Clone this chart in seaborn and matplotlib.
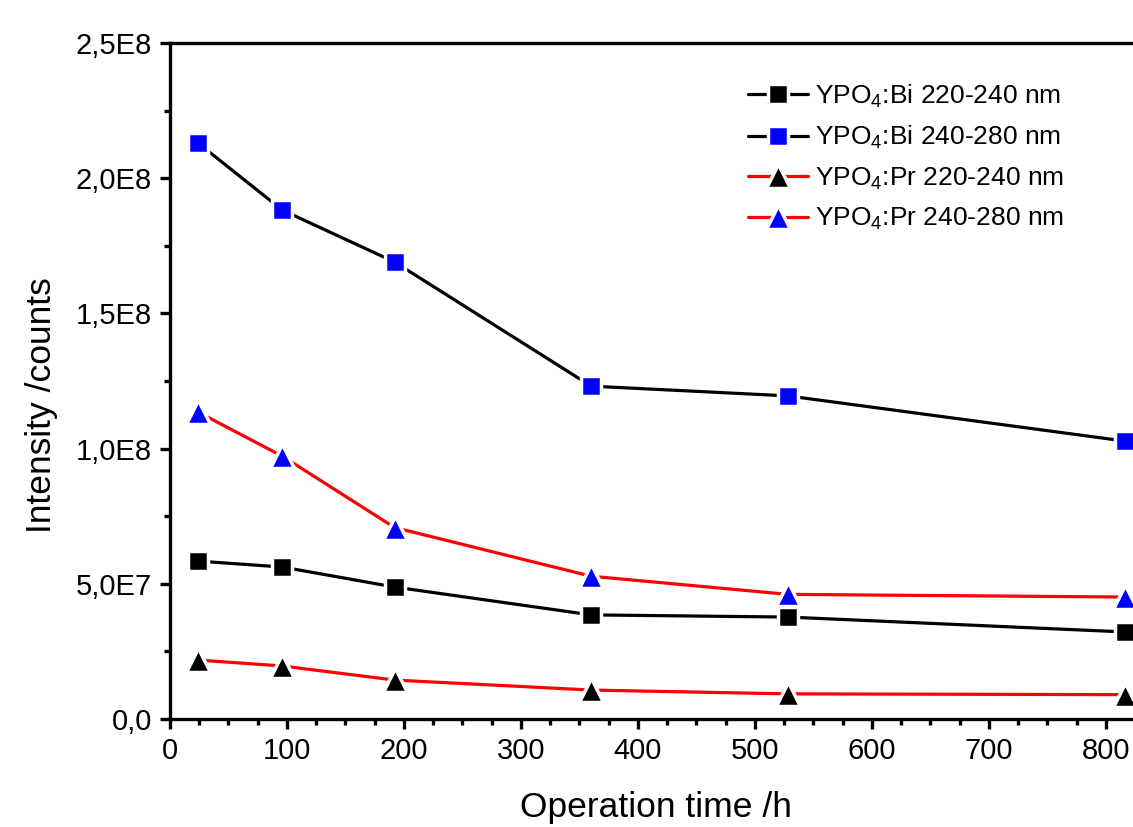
import pandas as pd
import matplotlib
matplotlib.use("Agg")
import matplotlib.pyplot as plt
import seaborn as sns
from matplotlib.ticker import MultipleLocator, FuncFormatter

# ========== Data ==========
time_h = [24, 96, 192, 360, 528, 816]
bi_220_240 = [5.84e7, 5.62e7, 4.88e7, 3.85e7, 3.77e7, 3.22e7]
bi_240_280 = [2.13e8, 1.882e8, 1.69e8, 1.231e8, 1.195e8, 1.028e8]
pr_220_240 = [2.18e7, 1.96e7, 1.44e7, 1.07e7, 0.93e7, 0.9e7]
pr_240_280 = [1.135e8, 0.972e8, 0.708e8, 0.528e8, 0.461e8, 0.451e8]

labels = ["YPO$_4$:Bi 220-240 nm", "YPO$_4$:Bi 240-280 nm",
          "YPO$_4$:Pr 220-240 nm", "YPO$_4$:Pr 240-280 nm"]
series = [bi_220_240, bi_240_280, pr_220_240, pr_240_280]
line_colors = ["black", "black", "#ff0000", "#ff0000"]
marker_colors = ["black", "#0000ff", "black", "#0000ff"]
markers = ["s", "s", "^", "^"]

df = pd.DataFrame({
    "time": time_h * 4,
    "intensity": sum(series, []),
    "series": [lab for lab in labels for _ in time_h],
})

# ========== Style ==========
sns.set_theme(style="ticks")
plt.rcParams["font.family"] = ["Liberation Sans", "DejaVu Sans"]
plt.rcParams["mathtext.fontset"] = "custom"
plt.rcParams["mathtext.rm"] = "Liberation Sans"
plt.rcParams["mathtext.it"] = "Liberation Sans:italic"
plt.rcParams["text.color"] = "black"
plt.rcParams["axes.labelcolor"] = "black"

# axes run past the right edge of the figure (cropped like the original)
fig = plt.figure(figsize=(11.33, 8.27), dpi=100)
ax = fig.add_axes([170 / 1133, 1 - 719 / 827, 971 / 1133, 676 / 827])

msizes = {"s": 14, "^": 17}
for lab, lc, mc, mk in zip(labels, line_colors, marker_colors, markers):
    sub = df[df["series"] == lab]
    sns.lineplot(data=sub, x="time", y="intensity", ax=ax, color=lc,
                 linewidth=2.3, marker=mk, markersize=msizes[mk],
                 markerfacecolor=mc, markeredgecolor="white",
                 markeredgewidth=2.5, label=lab)

ax.set_xlim(0, 830)
ax.set_ylim(0, 2.5e8)
ax.xaxis.set_major_locator(MultipleLocator(100))
ax.xaxis.set_minor_locator(MultipleLocator(25))
ax.yaxis.set_major_locator(MultipleLocator(5e7))
ax.yaxis.set_minor_locator(MultipleLocator(2.5e7))


def sci_comma(v, pos):
    if v == 0:
        return "0,0"
    exp = len(str(int(round(v)))) - 1
    mant = v / 10 ** exp
    return f"{mant:.1f}".replace(".", ",") + f"E{exp}"


ax.yaxis.set_major_formatter(FuncFormatter(sci_comma))

for s in ["left", "bottom", "top", "right"]:
    ax.spines[s].set_linewidth(2.4)
    ax.spines[s].set_color("black")

ax.tick_params(which="major", direction="out", length=7, width=2.4,
               labelsize=21, colors="black", pad=6)
ax.tick_params(which="minor", direction="out", length=4, width=2.4,
               colors="black")
ax.tick_params(top=False, right=False, which="both")

ax.set_xlabel("Operation time /h", fontsize=25.5, labelpad=19)
ax.set_ylabel("Intensity /counts", fontsize=25.5)
ax.yaxis.set_label_coords(-0.1153, 0.4645)

leg = ax.legend(loc="upper left", bbox_to_anchor=(737 / 1133, 1 - 72 / 827),
                bbox_transform=fig.transFigure, frameon=False, fontsize=19,
                handlelength=2.3, handletextpad=0.25, labelspacing=0.54,
                borderaxespad=0)
for h, mk in zip(leg.legend_handles, markers):
    h.set_markersize(msizes[mk])

plt.savefig("out.png", dpi=100)
